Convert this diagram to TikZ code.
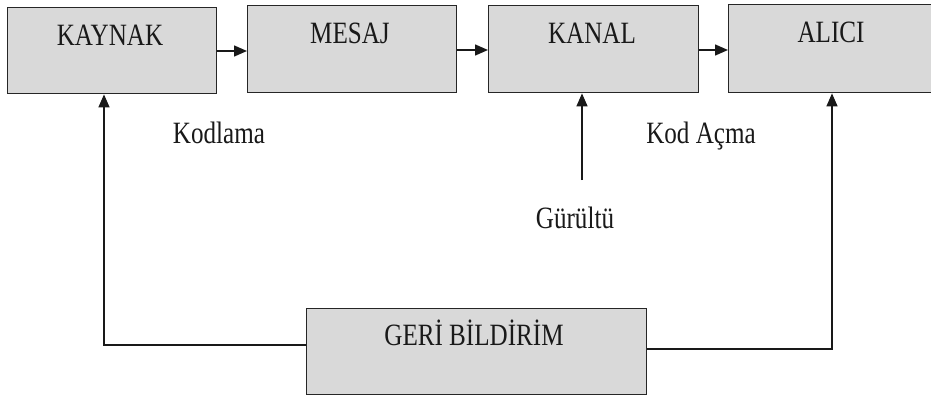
\documentclass[tikz,border=0pt]{standalone}
\usepackage{fontspec}
\setmainfont{Liberation Serif}[FakeStretch=0.81]
\usetikzlibrary{arrows.meta}

\tikzset{
  block/.style={draw=black!85, line width=1.4pt, fill=black!15, rectangle,
    inner sep=0pt, anchor=north west},
  lbl/.style={font=\fontsize{31}{31}\selectfont, inner sep=0pt, anchor=base, text=black!90},
  link/.style={draw=black!90, line width=1.4pt},
  flow/.style={link, -{Triangle[length=13pt,width=11pt]}}
}

\begin{document}
\begin{tikzpicture}[x=1pt, y=-1pt]
  \clip (0,0) rectangle (931,396);
  \fill[white] (0,0) rectangle (931,396);

  % boxes (top-left corner, size)
  \node[block, minimum width=209pt, minimum height=86pt] (kaynak) at (7,7) {};
  \node[block, minimum width=209pt, minimum height=87pt] (mesaj) at (247,5) {};
  \node[block, minimum width=210pt, minimum height=87pt] (kanal) at (488,5) {};
  \node[block, minimum width=210pt, minimum height=88pt] (alici) at (728,4) {};
  \node[block, minimum width=340pt, minimum height=86pt] (geri) at (306,308) {};

  % box captions
  \node[lbl] (kaynakT) at (110,46) {KAYNAK};
  \node[lbl] (mesajT) at (350,44) {MESAJ};
  \node[lbl] (kanalT) at (592,44) {KANAL};
  \node[lbl] (aliciT) at (831,43) {ALICI};
  \node[lbl] (geriT) at (474,345) {GERİ BİLDİRİM};

  % free labels
  \node[lbl] (kodlama) at (219,143) {Kodlama};
  \node[lbl] (kodacma) at (701,143) {Kod Açma};
  \node[lbl] (gurultu) at (575,228) {Gürültü};

  % main chain
  \draw[flow] (kaynak.east |- 0,51) -- (mesaj.west |- 0,51);
  \draw[flow] (mesaj.east |- 0,50) -- (kanal.west |- 0,50);
  \draw[flow] (kanal.east |- 0,50) -- (alici.west |- 0,50);

  % noise into the channel
  \coordinate (noise) at (582,180);
  \draw[flow] (noise) -- (kanal.south -| noise);

  % feedback paths
  \coordinate (fbL) at (104,345);
  \coordinate (fbR) at (832,349);
  \draw[flow] (geri.west |- fbL) -- (fbL) -- (kaynak.south -| fbL);
  \draw[flow] (geri.east |- fbR) -- (fbR) -- (alici.south -| fbR);
\end{tikzpicture}
\end{document}
